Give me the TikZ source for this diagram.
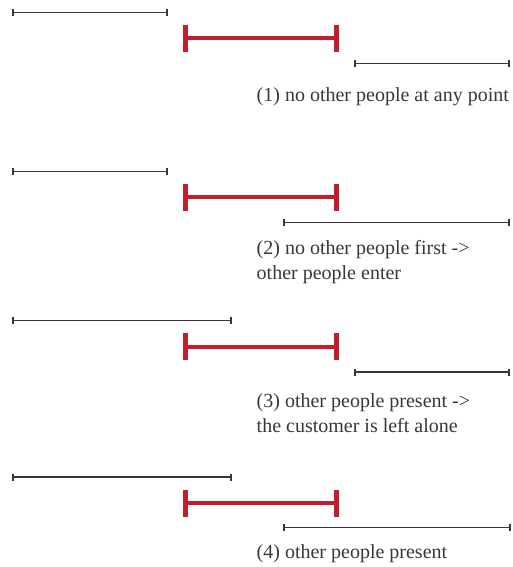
\documentclass[tikz,border=0pt]{standalone}
\usepackage{fontspec}
\setmainfont{Liberation Serif}
\usetikzlibrary{arrows.meta}
\definecolor{barred}{RGB}{193,30,46}
\definecolor{segblack}{RGB}{55,55,55}
\definecolor{txt}{RGB}{55,55,55}
\tikzset{
  seg/.style={draw=segblack, line width=1.4pt, {Bar[width=7pt,line width=2pt]}-{Bar[width=7pt,line width=2pt]}},
  redseg/.style={draw=barred, line width=4pt, {Bar[width=27pt,line width=4.5pt]}-{Bar[width=27pt,line width=4.5pt]}},
  lbl/.style={anchor=base west, inner sep=0pt, text=txt, font=\fontsize{20}{25}\selectfont}
}
\begin{document}
\begin{tikzpicture}[x=1pt,y=-1pt]
\useasboundingbox (0,0) rectangle (512,567);
% group 1
\coordinate (a1) at (12,12.7); \coordinate (b1) at (168,12.7);
\coordinate (r1a) at (183.3,38.5); \coordinate (r1b) at (338.8,38.5);
\coordinate (c1) at (354,63.3); \coordinate (d1) at (510.3,63.3);
\draw[seg] (a1) -- (b1);
\draw[redseg] (r1a) -- (r1b);
\draw[seg] (c1) -- (d1);
\node[lbl] (t1) at (256.5,102) {(1) no other people at any point};
% group 2
\coordinate (a2) at (12,171.5); \coordinate (b2) at (168,171.5);
\coordinate (r2a) at (183.3,197.3); \coordinate (r2b) at (338.8,197.3);
\coordinate (c2) at (283,222.7); \coordinate (d2) at (510.3,222.7);
\draw[seg] (a2) -- (b2);
\draw[redseg] (r2a) -- (r2b);
\draw[seg] (c2) -- (d2);
\node[lbl] (t2a) at (256.5,254) {(2) no other people first ->};
\node[lbl] (t2b) at (256.5,279) {other people enter};
% group 3
\coordinate (a3) at (12,320.5); \coordinate (b3) at (231.7,320.5);
\coordinate (r3a) at (183.3,346.5); \coordinate (r3b) at (338.8,346.5);
\coordinate (c3) at (354,372); \coordinate (d3) at (510.3,372);
\draw[seg] (a3) -- (b3);
\draw[redseg] (r3a) -- (r3b);
\draw[seg] (c3) -- (d3);
\node[lbl] (t3a) at (256.5,407) {(3) other people present ->};
\node[lbl] (t3b) at (256.5,432) {the customer is left alone};
% group 4
\coordinate (a4) at (12,477); \coordinate (b4) at (231.7,477);
\coordinate (r4a) at (183.3,503); \coordinate (r4b) at (338.8,503);
\coordinate (c4) at (283,527.7); \coordinate (d4) at (511,527.7);
\draw[seg] (a4) -- (b4);
\draw[redseg] (r4a) -- (r4b);
\draw[seg] (c4) -- (d4);
\node[lbl] (t4) at (256.5,558) {(4) other people present};
\end{tikzpicture}
\end{document}
